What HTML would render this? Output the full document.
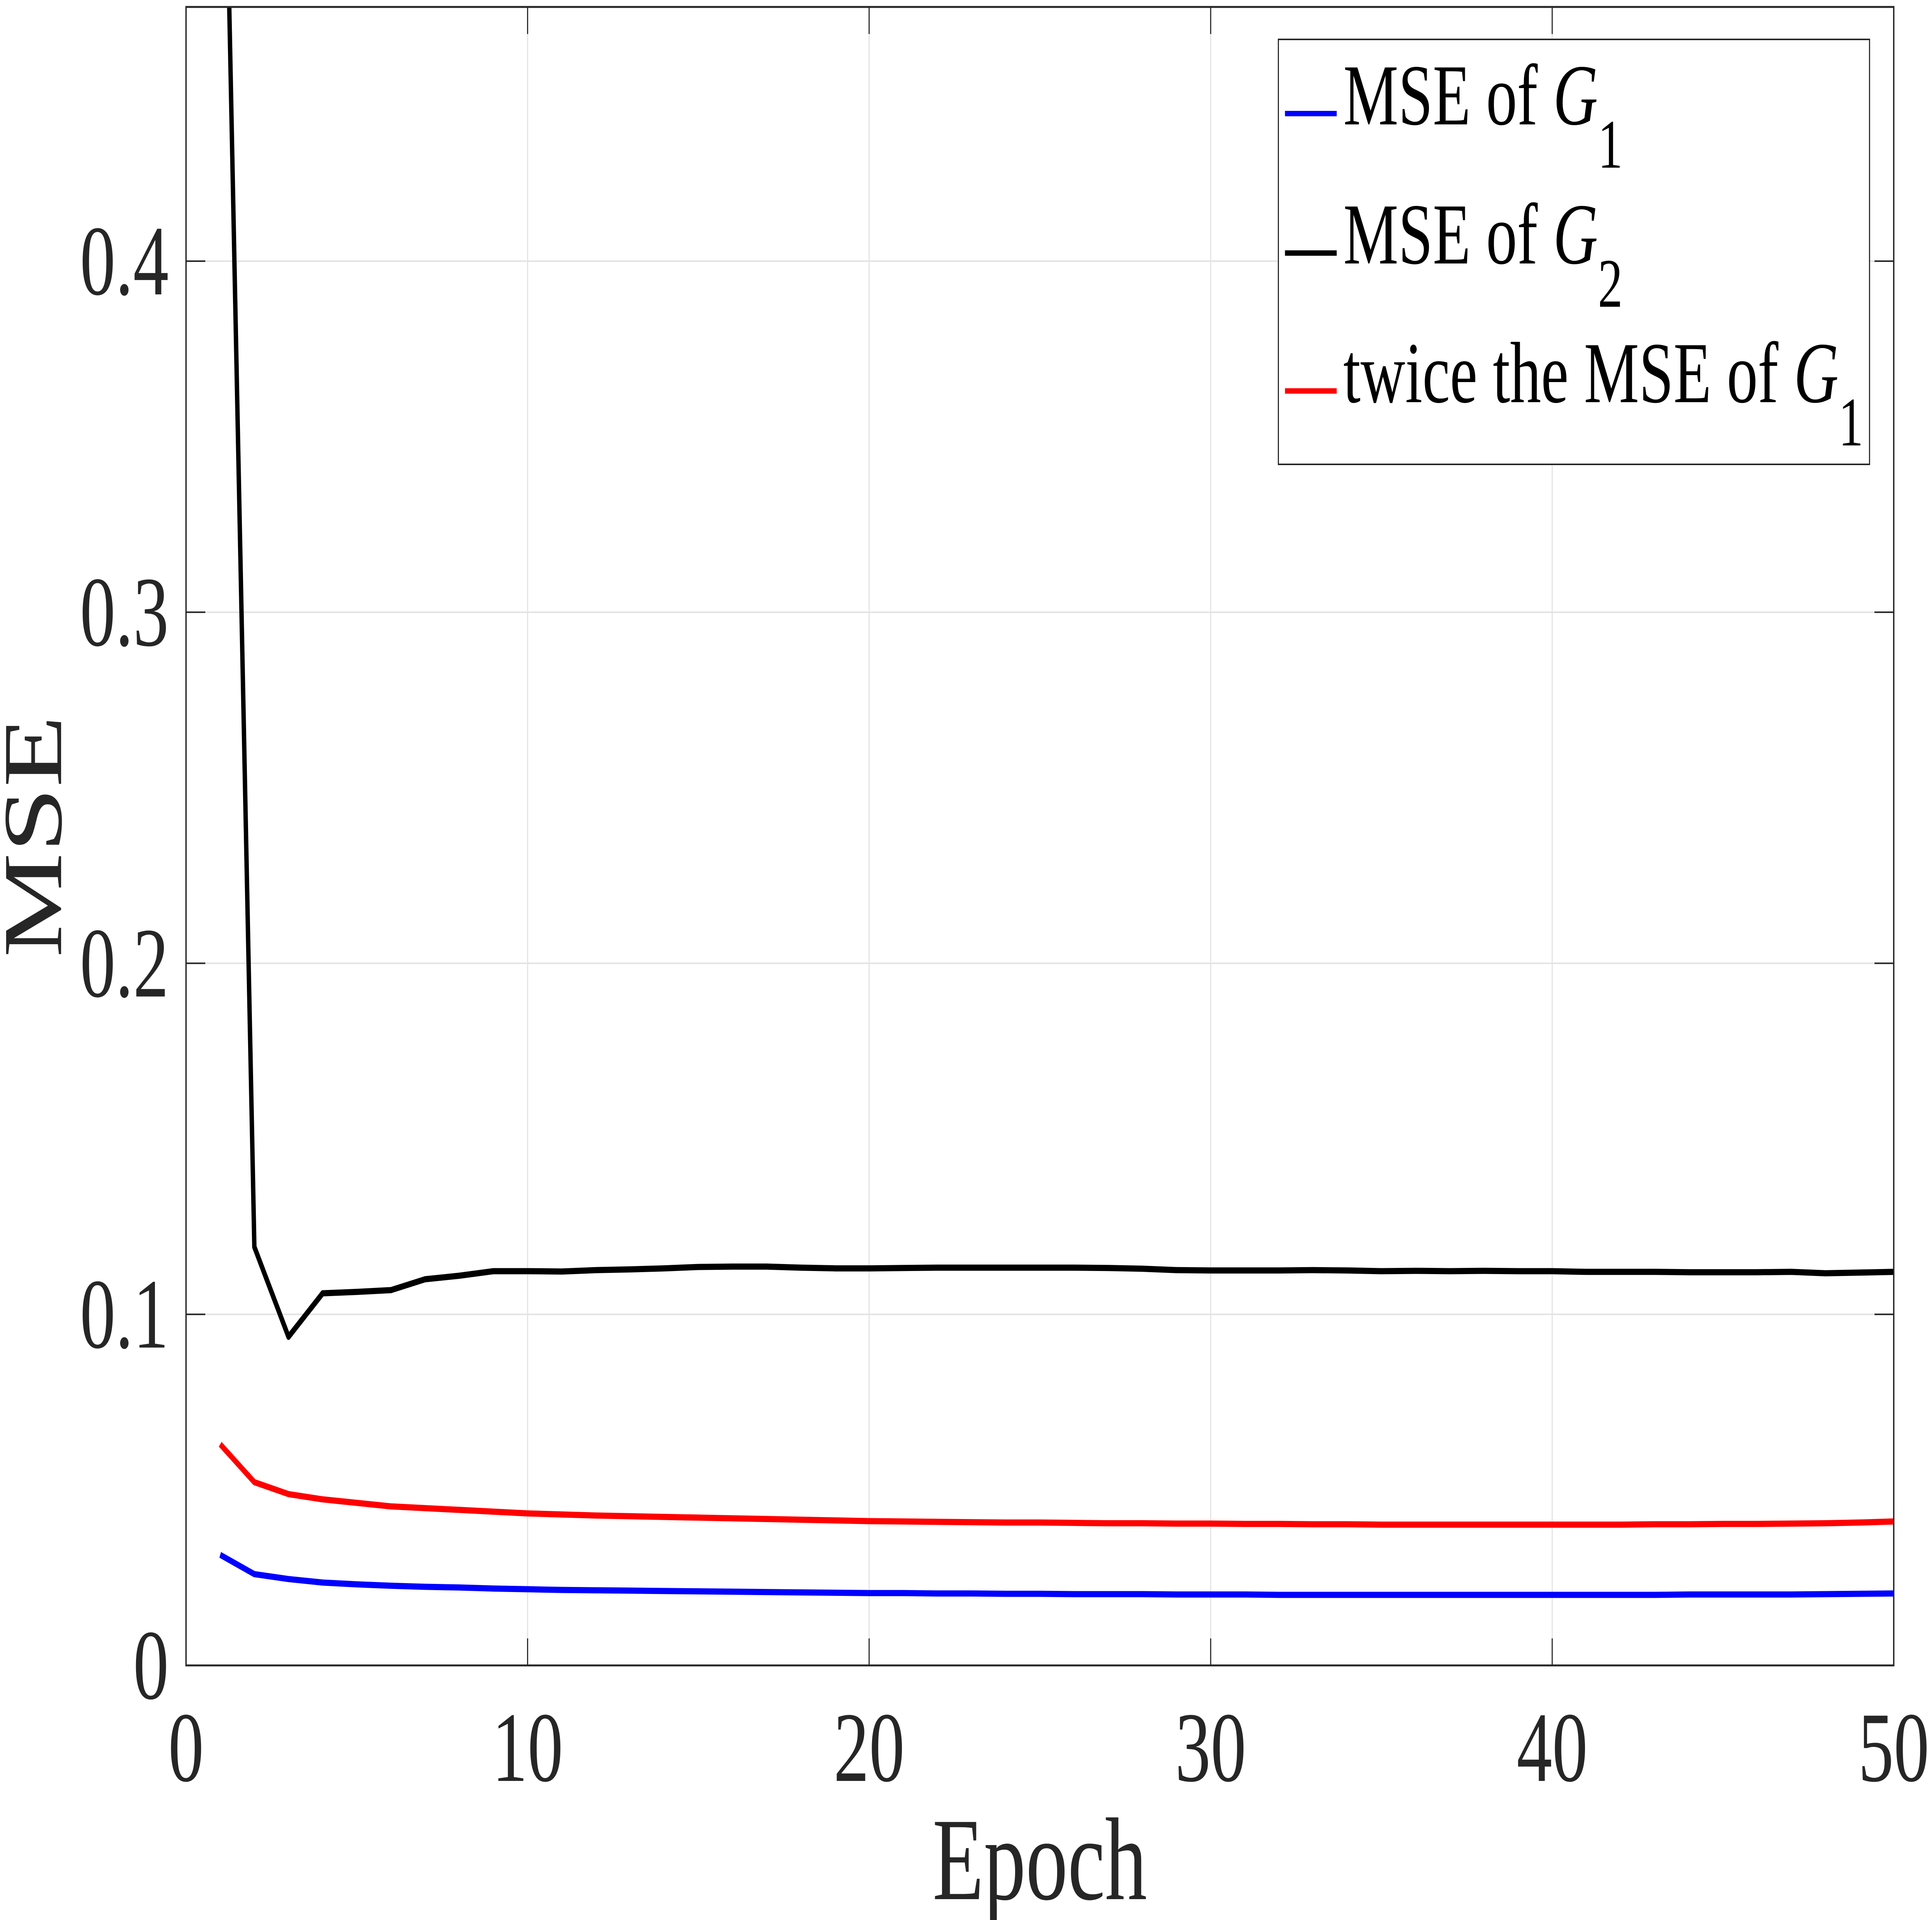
<!DOCTYPE html>
<html><head><meta charset="utf-8"><style>
html,body{margin:0;padding:0;background:#fff;overflow:hidden;width:100%;height:100%}
svg{display:block;width:100vw;height:100vh}
text{font-family:"Liberation Serif",serif;fill:#262626}
</style></head><body>
<svg id="chart" viewBox="0 0 7020 4970" preserveAspectRatio="none" xmlns="http://www.w3.org/2000/svg">
<rect x="0" y="0" width="7020" height="4970" fill="#fff"/>
<g id="grid"></g>
<g id="series"></g>
<g id="axes"></g>
<text x="3778" y="4916" font-size="305" text-anchor="middle">Epoch</text>
<text transform="translate(222,2165) rotate(-90)" font-size="305" text-anchor="middle">MSE</text>
<g>
<rect x="4645" y="102" width="2148" height="1100" fill="#fff" stroke="#262626" stroke-width="4"/>
<g>
<line x1="4669" y1="294" x2="4857" y2="294" stroke="#0000ff" stroke-width="14"/>
<text x="4881" y="322" font-size="225" style="fill:#000">MSE of <tspan font-style="italic">G</tspan><tspan font-size="180" dy="112">1</tspan></text>
</g>
<g>
<line x1="4669" y1="655" x2="4857" y2="655" stroke="#000" stroke-width="14"/>
<text x="4881" y="682" font-size="225" style="fill:#000">MSE of <tspan font-style="italic">G</tspan><tspan font-size="180" dy="112">2</tspan></text>
</g>
<g>
<line x1="4669" y1="1012" x2="4857" y2="1012" stroke="#ff0000" stroke-width="14"/>
<text x="4881" y="1041" font-size="225" style="fill:#000">twice the MSE of <tspan font-style="italic">G</tspan><tspan font-size="180" dy="112">1</tspan></text>
</g>
</g>
</svg>
<script>
const epochs = [1,2,3,4,5,6,7,8,9,10,11,12,13,14,15,16,17,18,19,20,21,22,23,24,25,26,27,28,29,30,31,32,33,34,35,36,37,38,39,40,41,42,43,44,45,46,47,48,49,50];
const mseG2 = [0.60,0.1192,0.0936,0.106,0.1064,0.1069,0.110,0.111,0.1123,0.1123,0.1122,0.1126,0.1128,0.1131,0.1135,0.1136,0.1136,0.1133,0.1131,0.1131,0.1132,0.1133,0.1133,0.1133,0.1133,0.1133,0.1132,0.1130,0.1126,0.1125,0.1125,0.1125,0.1126,0.1125,0.1123,0.1124,0.1123,0.1124,0.1123,0.1123,0.1121,0.1121,0.1121,0.1120,0.1120,0.1120,0.1121,0.1117,0.1119,0.1121];
const mseG1 = [0.0315,0.026,0.0246,0.0236,0.0231,0.0227,0.0224,0.0222,0.0219,0.0217,0.0215,0.0214,0.0213,0.0212,0.0211,0.0210,0.0209,0.0208,0.0207,0.0206,0.0206,0.0205,0.0205,0.0204,0.0204,0.0203,0.0203,0.0203,0.0202,0.0202,0.0202,0.0201,0.0201,0.0201,0.0201,0.0201,0.0201,0.0201,0.0201,0.0201,0.0201,0.0201,0.0201,0.0202,0.0202,0.0202,0.0202,0.0203,0.0204,0.0205];
const twiceG1 = [0.063,0.0522,0.0488,0.0473,0.0463,0.0453,0.0448,0.0443,0.0438,0.0433,0.0430,0.0427,0.0425,0.0423,0.0421,0.0419,0.0417,0.0415,0.0413,0.0411,0.0410,0.0409,0.0408,0.0407,0.0407,0.0406,0.0405,0.0405,0.0404,0.0404,0.0403,0.0403,0.0402,0.0402,0.0401,0.0401,0.0401,0.0401,0.0401,0.0401,0.0401,0.0401,0.0402,0.0402,0.0403,0.0403,0.0404,0.0405,0.0407,0.0410];
const xTicks = [0,10,20,30,40,50];
const yTicks = [0,0.1,0.2,0.3,0.4];
const yTickLabels = ["0","0.1","0.2","0.3","0.4"];

const L=676,R=6881,T=18,B=4311,XMAX=50,YMAX=(B-T)/((B-676)/0.4);
const NS="http://www.w3.org/2000/svg";
function sx(v){return L+(v/XMAX)*(R-L);}
function sy(v){return B-(v/YMAX)*(B-T);}
function mk(tag,attrs,parent){const e=document.createElementNS(NS,tag);for(const k in attrs)e.setAttribute(k,attrs[k]);parent.appendChild(e);return e;}
const grid=document.getElementById('grid'),axes=document.getElementById('axes'),ser=document.getElementById('series');
xTicks.forEach(t=>{
  if(t>0&&t<XMAX){const g=mk('line',{x1:sx(t),x2:sx(t),y1:T,y2:B,stroke:'#e3e3e3','stroke-width':4},grid);
  
  }
  [[B,B-70],[T,T+70]].forEach(p=>{const k=mk('line',{x1:sx(t),x2:sx(t),y1:p[0],y2:p[1],stroke:'#262626','stroke-width':4},axes);
  
  });
  const lb=mk('text',{x:sx(t),y:4610,'font-size':258,'text-anchor':'middle'},axes);lb.textContent=String(t);
  
  
});
yTicks.forEach((t,i)=>{
  if(t>0){const g=mk('line',{x1:L,x2:R,y1:sy(t),y2:sy(t),stroke:'#e3e3e3','stroke-width':4},grid);
  
  }
  [[L,L+70],[R,R-70]].forEach(p=>{const k=mk('line',{x1:p[0],x2:p[1],y1:sy(t),y2:sy(t),stroke:'#262626','stroke-width':4},axes);
  
  });
  const lb=mk('text',{x:613,y:sy(t)+86,'font-size':258,'text-anchor':'end'},axes);lb.textContent=yTickLabels[i];
  
  
});
const frame=mk('rect',{x:L,y:T,width:R-L,height:B-T,fill:'none',stroke:'#262626','stroke-width':5},axes);


mk('clipPath',{id:'clip'},ser);
mk('rect',{x:L,y:T,width:R-L,height:B-T},document.getElementById('clip'));
[[mseG1,'#0000ff','line-mse-g1'],[mseG2,'#000000','line-mse-g2'],[twiceG1,'#ff0000','line-twice-mse-g1']].forEach(s=>{
  const pts=epochs.map((e,i)=>sx(e)+','+sy(s[0][i])).join(' ');
  const pl=mk('polyline',{points:pts,fill:'none',stroke:s[1],'stroke-width':16,'stroke-linejoin':'round','clip-path':'url(#clip)'},ser);
  
  
});
</script>
</body></html>
